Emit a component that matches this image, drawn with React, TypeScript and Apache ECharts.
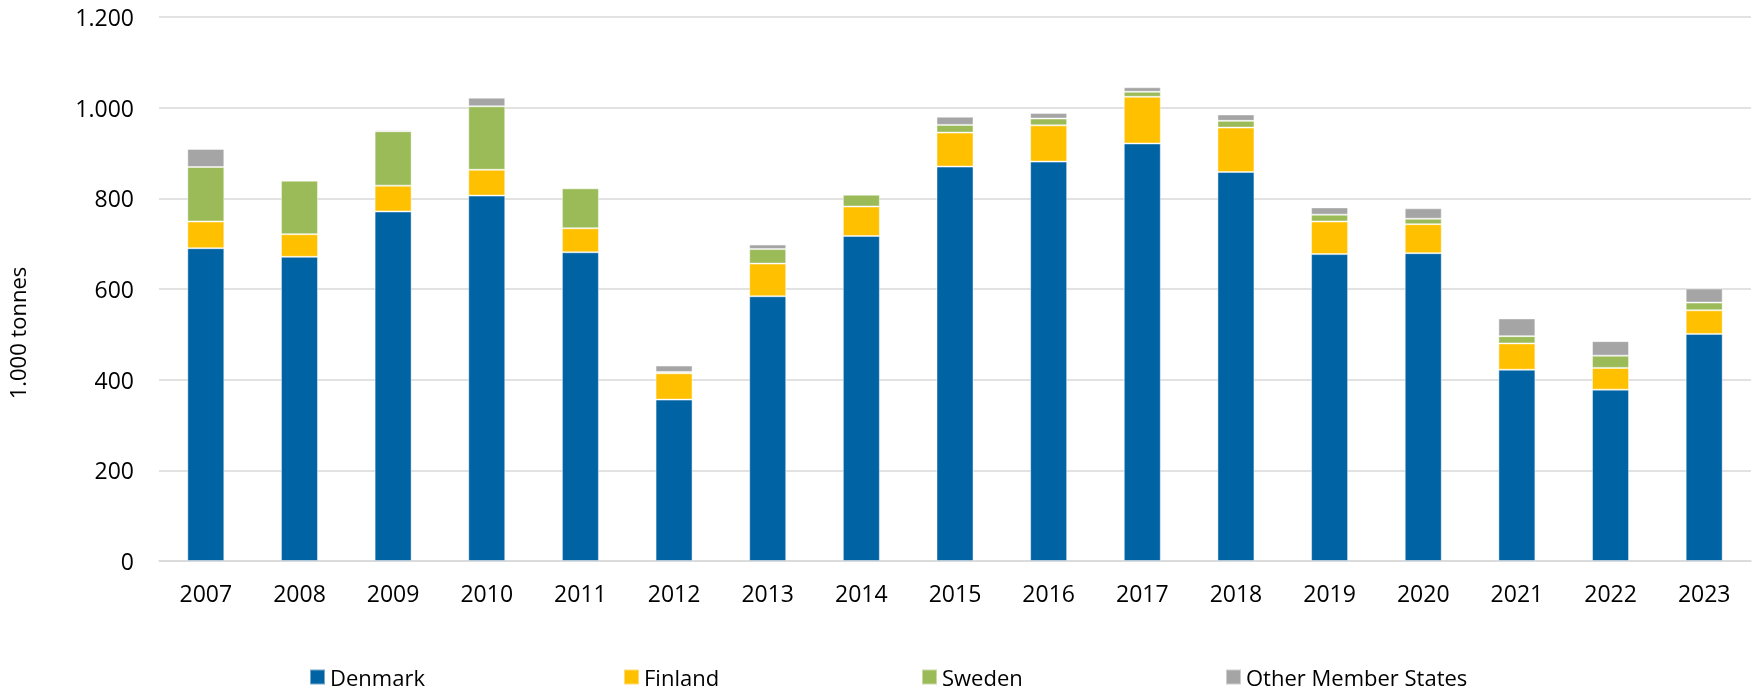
import React, { useEffect, useRef } from "react";
import * as echarts from "echarts";

const years = ["2007","2008","2009","2010","2011","2012","2013","2014","2015","2016","2017","2018","2019","2020","2021","2022","2023"];
const denmark = [690, 671, 771, 806, 681, 356, 584, 717, 870, 881, 921, 858, 677, 679, 422, 378, 501];
const finland = [59, 50, 57, 57, 53, 58, 72, 65, 75, 80, 103, 98, 72, 64, 58, 48, 52];
const sweden = [120, 118, 120, 140, 88, 3, 32, 26, 17, 15, 11, 15, 15, 12, 16, 27, 17];
const others = [40, 2, 3, 19, 2, 14, 10, 2, 18, 12, 10, 14, 16, 23, 39, 32, 31];
const seriesNames = ["Denmark", "Finland", "Sweden", "Other Member States"];
const seriesColors = ["#0063A3", "#FFC000", "#9BBB59", "#A5A5A5"];
const yTicks = { min: 0, max: 1200, interval: 200 };
const yTitle = "1.000 tonnes";

const FONT = "'Open Sans', sans-serif";

export default function App() {
  const ref = useRef<HTMLDivElement>(null);
  useEffect(() => {
    document.body.style.margin = "0";
    document.body.style.overflow = "hidden";
    document.documentElement.style.overflow = "hidden";
    if (!ref.current) return;
    const chart = echarts.init(ref.current, undefined, { renderer: "svg" });
    const dataSets = [denmark, finland, sweden, others];
    const legendLefts = [309, 623, 921, 1225];
    chart.setOption({
      animation: false,
      textStyle: { fontFamily: FONT },
      grid: { left: 159, right: 3, top: 17, height: 544 },
      legend: seriesNames.map((n, i) => ({
        data: [n],
        left: legendLefts[i],
        top: 664,
        padding: 0,
        itemWidth: 15,
        itemHeight: 15,
        itemGap: 5,
        icon: "rect",
        textStyle: { fontFamily: FONT, fontSize: 22, color: "#000", lineHeight: 26 },
      })),
      xAxis: {
        type: "category",
        data: years,
        axisLine: { lineStyle: { color: "#d9d9d9", width: 1.5 } },
        axisTick: { show: false },
        axisLabel: { color: "#000", fontSize: 23, fontFamily: FONT, margin: 20 },
      },
      yAxis: {
        type: "value",
        min: yTicks.min,
        max: yTicks.max,
        interval: yTicks.interval,
        axisLine: { show: false },
        axisTick: { show: false },
        splitLine: { lineStyle: { color: "#d9d9d9", width: 1.5 } },
        axisLabel: {
          color: "#000",
          fontSize: 23,
          fontFamily: FONT,
          margin: 25,
          formatter: (v: number) => v.toString().replace(/\B(?=(\d{3})+(?!\d))/g, "."),
        },
      },
      graphic: [
        {
          type: "text",
          x: 17,
          y: 333,
          rotation: Math.PI / 2,
          style: {
            text: yTitle,
            x: 0,
            y: 0,
            align: "center",
            verticalAlign: "middle",
            fontSize: 22,
            fontFamily: FONT,
            fill: "#000",
          },
        },
      ],
      series: seriesNames.map((n, i) => ({
        name: n,
        type: "bar",
        stack: "total",
        barWidth: 37,
        data: dataSets[i],
        itemStyle: {
          color: seriesColors[i],
          borderColor: "rgba(255,255,255,0.45)",
          borderWidth: 1,
        },
      })),
    });
    return () => chart.dispose();
  }, []);
  return (
    <div
      ref={ref}
      style={{ position: "fixed", left: 0, top: 0, width: 1754, height: 695 }}
    />
  );
}
